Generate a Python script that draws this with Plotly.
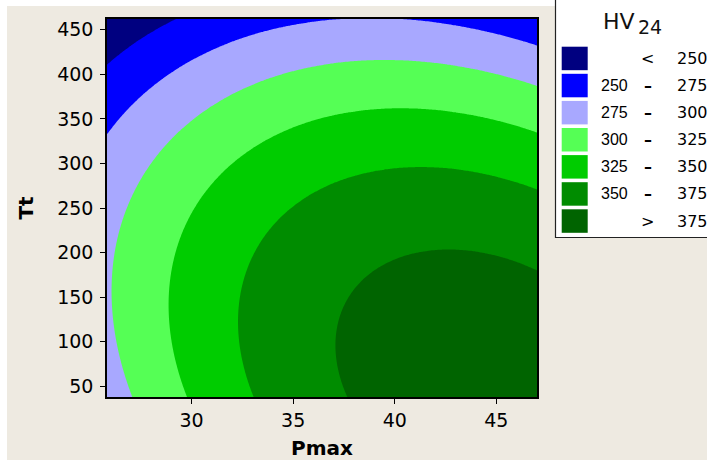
import numpy as np
import plotly.graph_objects as go

W, H = 707, 460
ML, MR, MT, MB = 107, 170, 19, 63
PW, PH = W - ML - MR, H - MT - MB


def px(x):
    return (x - ML) / PW


def py(y):
    return (H - MB - y) / PH


# Fitted second-order response surface for HV24 in coded units
# x = (Pmax - 36.5) / 10.5,  y = (Tt - 250) / 212
pmax_center, pmax_half = 36.5, 10.5
tt_center, tt_half = 250.0, 212.0
coef_names = ["const", "x", "y", "x^2", "y^2", "xy"]
coef_values = [355.574, 31.943, -47.851, -30.714, -33.627, -18.355]

pmax_range = [25.84, 47.0]
tt_range = [38, 462]
pmax_ticks = [30, 35, 40, 45]
tt_ticks = [50, 100, 150, 200, 250, 300, 350, 400, 450]

levels = [250, 275, 300, 325, 350, 375]
band_colors = ["#000080", "#0000FF", "#A8A8FF", "#55FF55", "#00CC00", "#008C00", "#006400"]
band_lo = ["", "250", "275", "300", "325", "350", ""]
band_op = ["<", "–", "–", "–", "–", "–", ">"]
band_hi = ["250", "275", "300", "325", "350", "375", "375"]


def hv24(p, t):
    x = (p - pmax_center) / pmax_half
    y = (t - tt_center) / tt_half
    b0, bx, by, bxx, byy, bxy = coef_values
    return b0 + bx * x + by * y + bxx * x * x + byy * y * y + bxy * x * y


p_grid = np.linspace(pmax_range[0], pmax_range[1], 240)
t_grid = np.linspace(tt_range[0], tt_range[1], 240)
PP, TT = np.meshgrid(p_grid, t_grid)
Z = hv24(PP, TT)

nb = len(band_colors)
cscale = []
for i, c in enumerate(band_colors):
    cscale.append([i / nb, c])
    cscale.append([(i + 1) / nb, c])

step = levels[1] - levels[0]
fig = go.Figure(go.Contour(
    x=p_grid, y=t_grid, z=Z,
    autocontour=False,
    contours=dict(start=levels[0], end=levels[-1] + step, size=step,
                  coloring="fill", showlines=False),
    colorscale=cscale, showscale=False, line=dict(width=0), hoverinfo="skip",
))

BG = "#EEEAE1"
tick_font = dict(family="DejaVu Sans", size=19, color="black")
title_font = dict(family="DejaVu Sans", size=20, color="black")

fig.update_layout(
    width=W, height=H,
    margin=dict(l=ML, r=MR, t=MT, b=MB, pad=0, autoexpand=False),
    paper_bgcolor=BG, plot_bgcolor=BG,
    showlegend=False,
    xaxis=dict(range=pmax_range, tickvals=pmax_ticks, ticks="outside",
               ticklen=5, tickcolor="black", showline=True, linecolor="black",
               linewidth=1.5, mirror=True, showgrid=False, zeroline=False,
               tickfont=tick_font, ticklabelstandoff=0, automargin=False,
               title=dict(text="<b>Pmax</b>", font=title_font, standoff=17)),
    yaxis=dict(range=tt_range, tickvals=tt_ticks,
               ticks="outside", ticklen=5, tickcolor="black", showline=True,
               linecolor="black", linewidth=1.5, mirror=True, showgrid=False,
               zeroline=False, tickfont=tick_font, ticklabelstandoff=3, automargin=False,
               title=dict(text="<b>Tt</b>", font=title_font, standoff=18)),
)

shapes = [
    dict(type="rect", xref="paper", yref="paper", x0=px(-2), x1=px(7), y0=py(470), y1=py(-2),
         fillcolor="white", line=dict(width=0), layer="below"),
    dict(type="rect", xref="paper", yref="paper", x0=px(-2), x1=px(720), y0=py(6), y1=py(-2),
         fillcolor="white", line=dict(width=0), layer="below"),
    dict(type="rect", xref="paper", yref="paper", x0=px(555.5), x1=px(720), y0=py(237.5), y1=py(-5),
         fillcolor="white", line=dict(color="#222222", width=1.2)),
]
annotations = [
    dict(text="HV", x=px(601), y=py(21), xref="paper", yref="paper", xanchor="left",
         yanchor="middle", showarrow=False, font=dict(family="DejaVu Sans", size=22, color="#111")),
    dict(text="24", x=px(636), y=py(27), xref="paper", yref="paper", xanchor="left",
         yanchor="middle", showarrow=False, font=dict(family="DejaVu Sans", size=19, color="#111")),
]
row_font = dict(family="DejaVu Sans", size=16, color="black")
narrow_font = dict(family="Liberation Sans", size=16, color="black")
dash_font = dict(family="DejaVu Sans", size=16, color="black", weight="bold")
for i in range(nb):
    top = 46.7 + 27.1 * i
    yc = top + 11.8
    shapes.append(dict(type="rect", xref="paper", yref="paper", x0=px(561.7), x1=px(587.7),
                       y0=py(top + 23.5), y1=py(top), fillcolor=band_colors[i],
                       line=dict(width=0)))
    if band_lo[i]:
        annotations.append(dict(text=band_lo[i], x=px(599), y=py(yc), xref="paper", yref="paper",
                                xanchor="left", yanchor="middle", showarrow=False, font=narrow_font))
    annotations.append(dict(text=band_op[i], x=px(647.5), y=py(yc), xref="paper", yref="paper",
                            xanchor="center", yanchor="middle", showarrow=False,
                            font=dash_font if band_op[i] == "–" else row_font))
    annotations.append(dict(text=band_hi[i], x=px(675), y=py(yc), xref="paper", yref="paper",
                            xanchor="left", yanchor="middle", showarrow=False, font=row_font))

fig.update_layout(shapes=shapes, annotations=annotations)
fig.write_html("out.html")
